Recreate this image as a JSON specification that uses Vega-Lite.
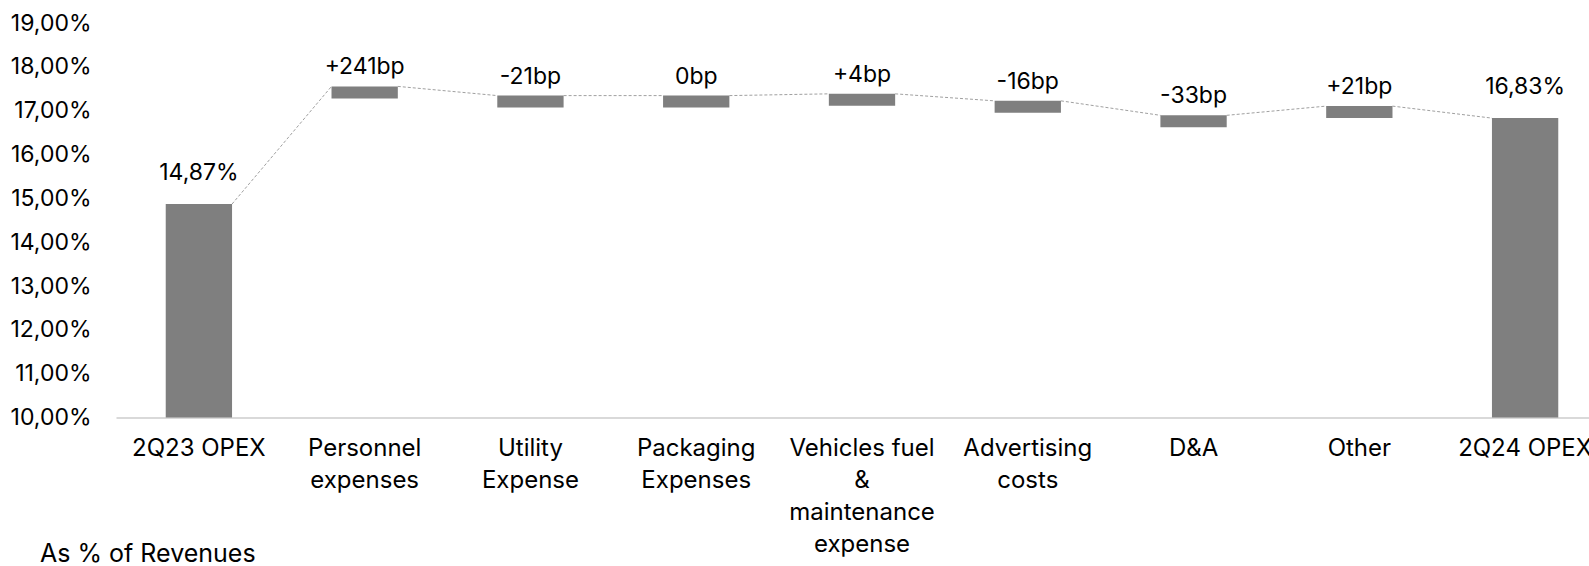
{
  "$schema": "https://vega.github.io/schema/vega-lite/v6.json",
  "width": 1492,
  "height": 394.5,
  "autosize": {"type": "none"},
  "padding": {"left": 116, "top": 23, "right": 0, "bottom": 149},
  "background": "white",
  "config": {
    "view": {"stroke": null},
    "font": "Inter",
    "text": {"font": "Inter"}
  },
  "title": {
    "text": "As % of Revenues",
    "orient": "bottom",
    "anchor": "start",
    "frame": "group",
    "dx": -76,
    "offset": -15,
    "font": "Inter",
    "fontSize": 25,
    "fontWeight": "normal",
    "color": "#000000"
  },
  "data": {
    "values": [
      {"cat": "2Q23 OPEX", "kind": "total", "level": 14.87, "label": "14,87%"},
      {"cat": "Personnel expenses", "kind": "change", "level": 17.28, "label": "+241bp"},
      {"cat": "Utility Expense", "kind": "change", "level": 17.07, "label": "-21bp"},
      {"cat": "Packaging Expenses", "kind": "change", "level": 17.07, "label": "0bp"},
      {"cat": "Vehicles fuel & maintenance expense", "kind": "change", "level": 17.11, "label": "+4bp"},
      {"cat": "Advertising costs", "kind": "change", "level": 16.95, "label": "-16bp"},
      {"cat": "D&A", "kind": "change", "level": 16.62, "label": "-33bp"},
      {"cat": "Other", "kind": "change", "level": 16.83, "label": "+21bp"},
      {"cat": "2Q24 OPEX", "kind": "total", "level": 16.83, "label": "16,83%"}
    ]
  },
  "encoding": {
    "x": {
      "field": "cat",
      "type": "nominal",
      "sort": null,
      "scale": {"paddingInner": 0.6, "paddingOuter": 0.3},
      "axis": {
        "title": null,
        "ticks": false,
        "labelAngle": 0,
        "labelPadding": 19,
        "labelFontSize": 24,
        "labelLineHeight": 32,
        "labelColor": "#000000",
        "labelLimit": 400,
        "domainColor": "#d9d9d9",
        "domainWidth": 2,
        "labelExpr": "datum.value == 'Personnel expenses' ? ['Personnel', 'expenses'] : datum.value == 'Utility Expense' ? ['Utility', 'Expense'] : datum.value == 'Packaging Expenses' ? ['Packaging', 'Expenses'] : datum.value == 'Vehicles fuel & maintenance expense' ? ['Vehicles fuel', '&', 'maintenance', 'expense'] : datum.value == 'Advertising costs' ? ['Advertising', 'costs'] : datum.value"
      }
    }
  },
  "layer": [
    {
      "transform": [
        {
          "window": [
            {"op": "lead", "field": "cat", "as": "nextCat"},
            {"op": "lead", "field": "level", "as": "nextLevel"},
            {"op": "lead", "field": "kind", "as": "nextKind"}
          ]
        },
        {"filter": "datum.nextCat != null"}
      ],
      "encoding": {
        "x2": {"field": "nextCat"},
        "y": {"field": "level", "type": "quantitative"},
        "y2": {"field": "nextLevel"}
      },
      "layer": [
        {
          "transform": [{"filter": "datum.kind == 'total'"}],
          "mark": {"type": "rule", "color": "#a0a0a0", "strokeWidth": 1, "strokeDash": [3, 2],
                   "xOffset": {"expr": "bandwidth('x') / 2"}, "x2Offset": {"expr": "-bandwidth('x') / 2"},
                   "yOffset": 0, "y2Offset": -12}
        },
        {
          "transform": [{"filter": "datum.kind == 'change' && datum.nextKind == 'change'"}],
          "mark": {"type": "rule", "color": "#a0a0a0", "strokeWidth": 1, "strokeDash": [3, 2],
                   "xOffset": {"expr": "bandwidth('x') / 2"}, "x2Offset": {"expr": "-bandwidth('x') / 2"},
                   "yOffset": -12, "y2Offset": -12}
        },
        {
          "transform": [{"filter": "datum.kind == 'change' && datum.nextKind == 'total'"}],
          "mark": {"type": "rule", "color": "#a0a0a0", "strokeWidth": 1, "strokeDash": [3, 2],
                   "xOffset": {"expr": "bandwidth('x') / 2"}, "x2Offset": {"expr": "-bandwidth('x') / 2"},
                   "yOffset": -12, "y2Offset": 0}
        }
      ]
    },
    {
      "transform": [{"filter": "datum.kind == 'total'"}],
      "mark": {"type": "bar", "color": "#7f7f7f"},
      "encoding": {
        "y": {
          "field": "level",
          "type": "quantitative",
          "scale": {"domain": [10, 19], "zero": false, "nice": false},
          "axis": {
            "title": null,
            "values": [10, 11, 12, 13, 14, 15, 16, 17, 18, 19],
            "labelExpr": "replace(format(datum.value, '.2f'), '.', ',') + '%'",
            "domain": false,
            "ticks": false,
            "grid": false,
            "labelPadding": 25,
            "labelFontSize": 23,
            "labelColor": "#000000"
          }
        },
        "y2": {"datum": 10}
      }
    },
    {
      "transform": [{"filter": "datum.kind == 'change'"}],
      "mark": {"type": "bar", "color": "#7f7f7f", "yOffset": -12},
      "encoding": {
        "y": {"field": "level", "type": "quantitative"},
        "y2": {"field": "level"}
      }
    },
    {
      "mark": {"type": "text", "fontSize": 23, "color": "#000000", "baseline": "middle", "dy": -31},
      "encoding": {
        "y": {"field": "level", "type": "quantitative"},
        "text": {"field": "label"}
      }
    }
  ]
}
